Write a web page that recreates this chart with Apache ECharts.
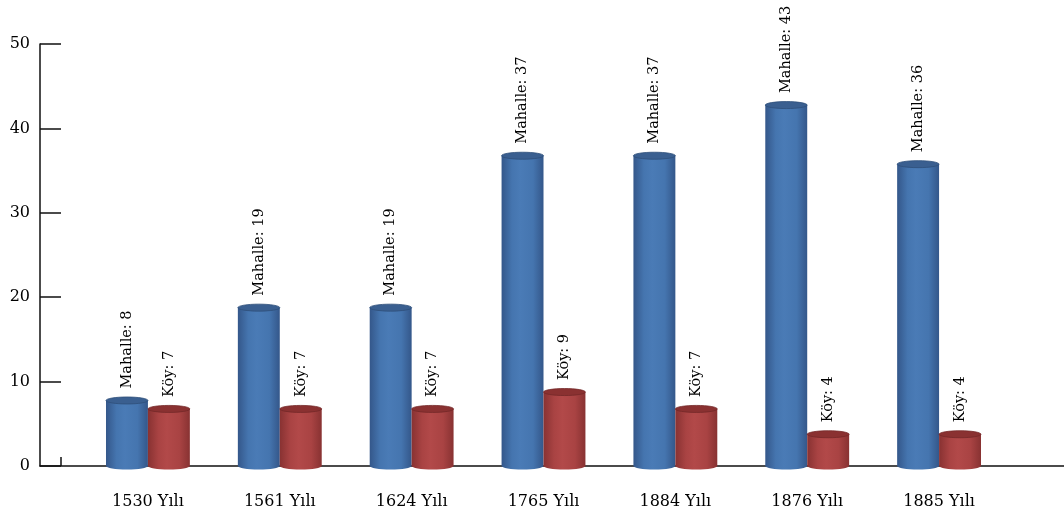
<!DOCTYPE html>
<html>
<head>
<meta charset="utf-8">
<script src="https://cdn.jsdelivr.net/npm/echarts@6/dist/echarts.min.js"></script>
<style>html,body{margin:0;padding:0;background:#fff;}#c{width:1064px;height:521px;}</style>
</head>
<body>
<div id="c"></div>
<script>
const categories = ['1530 Yılı','1561 Yılı','1624 Yılı','1765 Yılı','1884 Yılı','1876 Yılı','1885 Yılı'];
const mahalle = [8, 19, 19, 37, 37, 43, 36];
const koy = [7, 7, 7, 9, 7, 4, 4];
const seriesNames = ['Mahalle', 'Köy'];
const yTicks = [0, 10, 20, 30, 40, 50];

const FONT = '"DejaVu Serif", serif';
const palettes = [
  {edge:'#34578a', mid:'#4a7bb6', mid2:'#4575af', top:'#3a5f90', topEdge:'#2f4f7a'},
  {edge:'#883232', mid:'#b24949', mid2:'#a94343', top:'#8a3131', topEdge:'#742828'}
];

function makeRender(si) {
  const p = palettes[si];
  return function (params, api) {
    const idx = api.value(0), v = api.value(1);
    const top = api.coord([idx, v]);
    const base = api.coord([idx, 0]);
    const band = api.size([1, 0])[0];
    const w = band * 0.318;
    const cx = top[0] + (si === 0 ? -w / 2 : w / 2);
    const ry = 3.5;
    const topY = top[1] + 2;
    const grad = {type:'linear', x:0, y:0, x2:1, y2:0, colorStops:[
      {offset:0, color:p.edge},{offset:0.25, color:p.mid2},{offset:0.45, color:p.mid},
      {offset:0.75, color:p.mid2},{offset:1, color:p.edge}]};
    return {
      type: 'group',
      children: [
        {type:'ellipse', shape:{cx:cx, cy:base[1], rx:w/2, ry:ry}, style:{fill:grad}},
        {type:'rect', shape:{x:cx - w/2, y:topY, width:w, height:base[1]-topY}, style:{fill:grad}},
        {type:'ellipse', shape:{cx:cx, cy:topY, rx:w/2, ry:ry}, style:{fill:p.top, stroke:p.topEdge, lineWidth:0.8}},
        {type:'text', x:cx, y:top[1] - 10, rotation:Math.PI/2,
          style:{text: seriesNames[si] + ': ' + v, fill:'#000', font:'14.5px ' + FONT, align:'left', verticalAlign:'middle'}}
      ]
    };
  };
}

const chart = echarts.init(document.getElementById('c'), null, {renderer:'canvas'});
chart.setOption({
  animation: false,
  backgroundColor: '#fff',
  grid: [
    {left:40, right:0, top:44, bottom:55},
    {left:82, right:59, top:44, bottom:55}
  ],
  xAxis: [
    {type:'value', gridIndex:0, min:0, max:1024,
      axisLine:{show:true, lineStyle:{color:'#111', width:1.5}},
      axisTick:{show:true, inside:true, length:9, customValues:[21], lineStyle:{color:'#111', width:1.5}},
      axisLabel:{show:false}, splitLine:{show:false}},
    {type:'category', gridIndex:1, data:categories,
      axisLine:{show:false}, axisTick:{show:false},
      axisLabel:{margin:28, color:'#000', fontSize:16, fontFamily:FONT}}
  ],
  yAxis: [
    {type:'value', gridIndex:0, min:0, max:50, interval:10,
      axisLine:{show:true, lineStyle:{color:'#111', width:1.5}},
      axisTick:{show:true, inside:true, length:21, lineStyle:{color:'#111', width:1.5}},
      axisLabel:{margin:10, color:'#000', fontSize:16, fontFamily:FONT,
        customValues: yTicks},
      splitLine:{show:false}},
    {type:'value', gridIndex:1, min:0, max:50, interval:10, show:false}
  ],
  series: [
    {type:'custom', name:seriesNames[0], xAxisIndex:1, yAxisIndex:1,
      renderItem: makeRender(0), data: mahalle.map((v,i)=>[i,v])},
    {type:'custom', name:seriesNames[1], xAxisIndex:1, yAxisIndex:1,
      renderItem: makeRender(1), data: koy.map((v,i)=>[i,v])}
  ]
});
</script>
</body>
</html>
